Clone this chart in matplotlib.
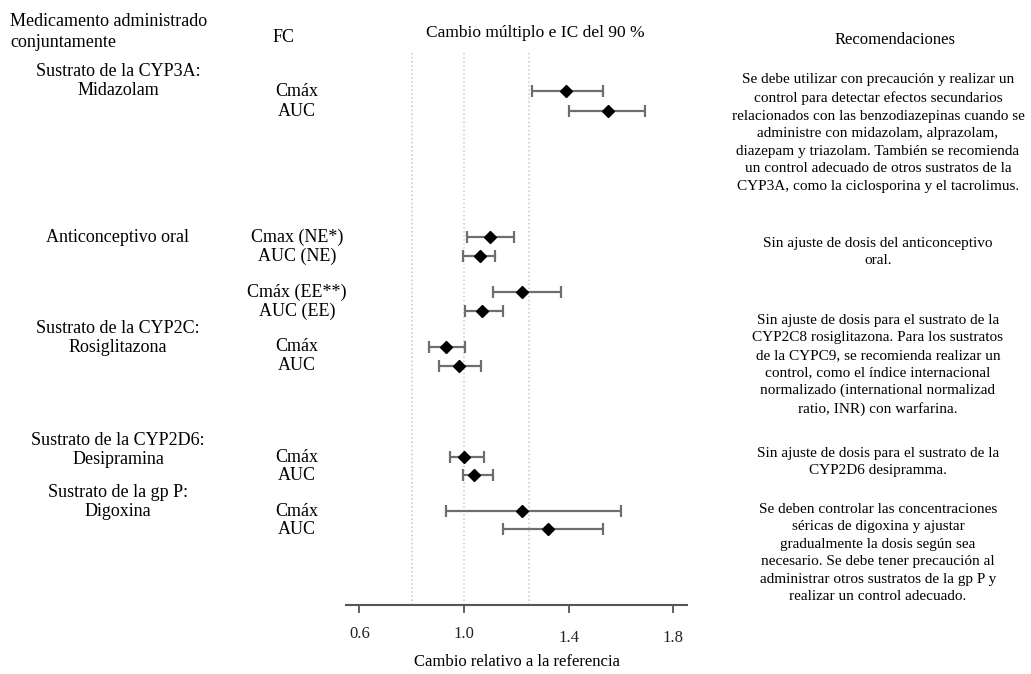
import matplotlib.pyplot as plt
import matplotlib.transforms as mtransforms

plt.rcParams["font.family"] = ["Liberation Serif", "DejaVu Serif"]

# Data (fold change and 90% CI)
fc_labels = ["Cmáx", "AUC", "Cmax (NE*)", "AUC (NE)", "Cmáx (EE**)", "AUC (EE)",
             "Cmáx", "AUC", "Cmáx", "AUC", "Cmáx", "AUC"]
ratio = [1.39, 1.55, 1.10, 1.06, 1.22, 1.07, 0.93, 0.98, 1.00, 1.04, 1.22, 1.32]
ci_low = [1.26, 1.40, 1.01, 0.995, 1.11, 1.005, 0.865, 0.905, 0.945, 0.995, 0.93, 1.15]
ci_high = [1.53, 1.69, 1.19, 1.12, 1.37, 1.15, 1.005, 1.065, 1.075, 1.11, 1.60, 1.53]

drug_labels = ["Sustrato de la CYP3A:\nMidazolam", "Anticonceptivo oral",
               "Sustrato de la CYP2C:\nRosiglitazona", "Sustrato de la CYP2D6:\nDesipramina",
               "Sustrato de la gp P:\nDigoxina"]
recommendations = [
    "Se debe utilizar con precaución y realizar un\ncontrol para detectar efectos secundarios\n"
    "relacionados con las benzodiazepinas cuando se\nadministre con midazolam, alprazolam,\n"
    "diazepam y triazolam. También se recomienda\nun control adecuado de otros sustratos de la\n"
    "CYP3A, como la ciclosporina y el tacrolimus.",
    "Sin ajuste de dosis del anticonceptivo\noral.",
    "Sin ajuste de dosis para el sustrato de la\nCYP2C8 rosiglitazona. Para los sustratos\n"
    "de la CYPC9, se recomienda realizar un\ncontrol, como el índice internacional\n"
    "normalizado (international normalizad\nratio, INR) con warfarina.",
    "Sin ajuste de dosis para el sustrato de la\nCYP2D6 desipramma.",
    "Se deben controlar las concentraciones\nséricas de digoxina y ajustar\n"
    "gradualmente la dosis según sea\nnecesario. Se debe tener precaución al\n"
    "administrar otros sustratos de la gp P y\nrealizar un control adecuado.",
]
ref_lines = [0.8, 1.0, 1.25]
xticks = [0.6, 1.0, 1.4, 1.8]

# layout (pixel rows)
W, H = 1031, 674
row_y = [91, 111, 237, 256, 292, 311, 347, 366, 457, 475, 511, 529]
drug_y = [81, 237, 338, 450, 502]
rec_y = [133, 252, 365, 462, 553]

fig = plt.figure(figsize=(W / 100, H / 100), dpi=100)
ax = fig.add_axes([346 / W, 1 - 605 / H, 341 / W, 553 / H])
ax.set_xlim(0.549, 1.852)
ax.set_ylim(605, 52)

for v in ref_lines:
    ax.axvline(v, color="#c8c8c8", linestyle=":", linewidth=1.1, zorder=1)

xerr = [[r - lo for r, lo in zip(ratio, ci_low)], [hi - r for r, hi in zip(ratio, ci_high)]]
ax.errorbar(ratio, row_y, xerr=xerr, fmt="D", color="black", markersize=6.5,
            ecolor="#6e6e6e", elinewidth=1.6, capsize=4, capthick=1.6, zorder=3)

for s in ["top", "left", "right"]:
    ax.spines[s].set_visible(False)
ax.spines["bottom"].set_color("#555555")
ax.spines["bottom"].set_linewidth(1.5)
ax.set_yticks([])
ax.set_xticks(xticks)
ax.set_xticklabels([f"{t:.1f}" for t in xticks])
ax.tick_params(axis="x", direction="out", length=6, width=1.3, color="#555555",
               labelsize=12, labelcolor="#222222", pad=9)
for lbl in ax.get_xticklabels()[2:]:
    lbl.set_transform(lbl.get_transform() +
                      mtransforms.ScaledTranslation(0, -3 / 72, fig.dpi_scale_trans))
ax.set_xlabel("Cambio relativo a la referencia", fontsize=12, labelpad=6)


def fy(y):
    return 1 - y / H


fig.text(10 / W, fy(32), "Medicamento administrado\nconjuntamente", fontsize=13,
         ha="left", va="center", linespacing=1.3)
fig.text(284 / W, fy(37), "FC", fontsize=13, ha="center", va="center")
fig.text(535 / W, fy(33), "Cambio múltiplo e IC del 90 %", fontsize=12.5,
         ha="center", va="center")
fig.text(895 / W, fy(40), "Recomendaciones", fontsize=12, ha="center", va="center")

for lab, y in zip(drug_labels, drug_y):
    fig.text(118 / W, fy(y), lab, fontsize=13, ha="center", va="center",
             multialignment="center", linespacing=1.2)

for lab, y in zip(fc_labels, row_y):
    fig.text(297 / W, fy(y), lab, fontsize=13, ha="center", va="center")

for lab, y in zip(recommendations, rec_y):
    fig.text(878 / W, fy(y), lab, fontsize=11, ha="center", va="center",
             multialignment="center", linespacing=1.45)

fig.savefig("out.png", dpi=100)
